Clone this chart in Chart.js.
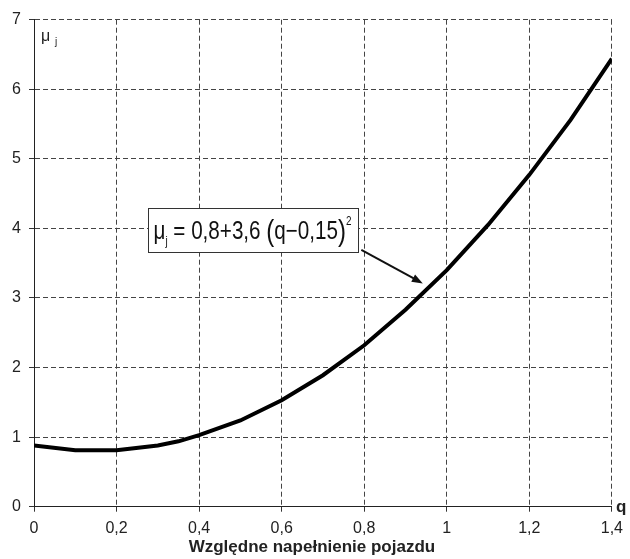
<!DOCTYPE html>
<html><head><meta charset="utf-8">
<script src="https://cdn.jsdelivr.net/npm/chart.js@4"></script>
<style>html,body{margin:0;padding:0;background:#fff}#wrap{width:630px;height:559px;position:relative}</style>
</head><body><div id="wrap"><canvas id="c" width="630" height="559"></canvas></div>
<script>
// ---- data ----
const qValues  = [0, 0.1, 0.2, 0.3, 0.35, 0.4, 0.5, 0.6, 0.7, 0.8, 0.9, 1.0, 1.1, 1.2, 1.3, 1.4];
const muValues = [0.88, 0.81, 0.81, 0.88, 0.94, 1.03, 1.24, 1.53, 1.89, 2.32, 2.83, 3.40, 4.05, 4.77, 5.56, 6.44];
const xTickValues = [0, 0.2, 0.4, 0.6, 0.8, 1.0, 1.2, 1.4];
const yTickValues = [0, 1, 2, 3, 4, 5, 6, 7];
const xAxisTitle = 'Względne napełnienie pojazdu';
const xAxisSymbol = 'q';
const yAxisSymbol = 'μ';
const yAxisSub = 'j';
// formula annotation: anchor in data coordinates
const boxCorners = {q1: 0.275, mu1: 4.29, q2: 0.786, mu2: 3.66};
const arrowFrom = {q: 0.793, mu: 3.69};
const arrowTo = {q: 0.942, mu: 3.21};

const FONT = "'Liberation Sans', Arial, sans-serif";
const fmt = v => String(Math.round(v * 10) / 10).replace('.', ',');

const overlay = {
  id: 'overlay',
  afterDatasetsDraw(chart) {
    const ctx = chart.ctx, xs = chart.scales.x, ys = chart.scales.y, ca = chart.chartArea;
    ctx.save();
    // y symbol
    ctx.fillStyle = '#222';
    ctx.textBaseline = 'alphabetic';
    ctx.textAlign = 'left';
    ctx.font = '16px ' + FONT;
    ctx.fillText(yAxisSymbol, ca.left + 7, ca.top + 21);
    ctx.font = '10px ' + FONT;
    ctx.fillText(yAxisSub, ca.left + 21, ca.top + 25);
    // x symbol
    ctx.font = 'bold 17px ' + FONT;
    ctx.fillText(xAxisSymbol, ca.right + 4, ca.bottom + 5);
    // axis title
    ctx.font = 'bold 17px ' + FONT;
    ctx.textAlign = 'center';
    ctx.fillText(xAxisTitle, (ca.left + ca.right) / 2 - 11, chart.height - 7);

    // formula box
    const bx1 = Math.round(xs.getPixelForValue(boxCorners.q1)) + 0.5;
    const by1 = Math.round(ys.getPixelForValue(boxCorners.mu1)) + 0.5;
    const bx2 = Math.round(xs.getPixelForValue(boxCorners.q2)) + 0.5;
    const by2 = Math.round(ys.getPixelForValue(boxCorners.mu2)) + 0.5;
    ctx.fillStyle = '#fff';
    ctx.fillRect(bx1, by1, bx2 - bx1, by2 - by1);
    ctx.strokeStyle = '#333';
    ctx.lineWidth = 1;
    ctx.strokeRect(bx1, by1, bx2 - bx1, by2 - by1);

    // formula text pieces
    const parts = [
      {t: 'μ', f: '25px ' + FONT, dy: 0},
      {t: 'j', f: '12px ' + FONT, dy: 6},
      {t: ' = ', f: '25px ' + FONT, dy: 0},
      {t: '0,8+3,6 ', f: '25px ' + FONT, dy: 0},
      {t: '(', f: '29px ' + FONT, dy: 2},
      {t: 'q−0,15', f: '25px ' + FONT, dy: 0},
      {t: ')', f: '29px ' + FONT, dy: 2},
      {t: '2', f: '12px ' + FONT, dy: -14}
    ];
    let total = 0;
    parts.forEach(p => { ctx.font = p.f; p.w = ctx.measureText(p.t).width; total += p.w; });
    const startX = bx1 + 5, endX = bx2 - 7;
    const sx = (endX - startX) / total;
    const baseY = by1 + 30;
    ctx.fillStyle = '#111';
    ctx.textAlign = 'left';
    ctx.save();
    ctx.translate(startX, baseY);
    ctx.scale(sx, 1);
    let cx = 0;
    parts.forEach(p => { ctx.font = p.f; ctx.fillText(p.t, cx, p.dy); cx += p.w; });
    ctx.restore();

    // arrow
    const ax1 = xs.getPixelForValue(arrowFrom.q), ay1 = ys.getPixelForValue(arrowFrom.mu);
    const ax2 = xs.getPixelForValue(arrowTo.q), ay2 = ys.getPixelForValue(arrowTo.mu);
    const ang = Math.atan2(ay2 - ay1, ax2 - ax1);
    const hl = 11, hw = 4;
    ctx.strokeStyle = '#111';
    ctx.lineWidth = 2;
    ctx.beginPath();
    ctx.moveTo(ax1, ay1);
    ctx.lineTo(ax2 - Math.cos(ang) * hl * 0.8, ay2 - Math.sin(ang) * hl * 0.8);
    ctx.stroke();
    ctx.fillStyle = '#111';
    ctx.beginPath();
    ctx.moveTo(ax2, ay2);
    ctx.lineTo(ax2 - Math.cos(ang) * hl - Math.sin(ang) * hw, ay2 - Math.sin(ang) * hl + Math.cos(ang) * hw);
    ctx.lineTo(ax2 - Math.cos(ang) * hl + Math.sin(ang) * hw, ay2 - Math.sin(ang) * hl - Math.cos(ang) * hw);
    ctx.closePath();
    ctx.fill();
    ctx.restore();
  }
};

const gridCommon = {
  color: '#444',
  lineWidth: 1,
  tickBorderDash: [],
  tickColor: '#333',
  tickLength: 5,
  drawTicks: true
};
const borderCommon = {display: true, color: '#222', width: 1, dash: [5, 3]};

new Chart(document.getElementById('c'), {
  type: 'line',
  data: {
    datasets: [{
      data: qValues.map((q, i) => ({x: q, y: muValues[i]})),
      borderColor: '#000',
      borderWidth: 4,
      pointRadius: 0,
      tension: 0,
      fill: false
    }]
  },
  options: {
    responsive: false,
    devicePixelRatio: 1,
    animation: false,
    layout: {padding: {left: 0, right: 15, top: 19.7, bottom: 0}},
    plugins: {legend: {display: false}, tooltip: {enabled: false}},
    scales: {
      x: {
        type: 'linear', min: 0, max: 1.4,
        afterBuildTicks: s => { s.ticks = xTickValues.map(v => ({value: v})); },
        afterFit: s => { s.height = 52.3; },
        grid: gridCommon,
        border: borderCommon,
        ticks: {color: '#222', font: {family: FONT, size: 16}, padding: 7, maxRotation: 0, autoSkip: false, callback: v => fmt(v)}
      },
      y: {
        type: 'linear', min: 0, max: 7,
        afterBuildTicks: s => { s.ticks = yTickValues.map(v => ({value: v})); },
        afterFit: s => { s.width = 34; },
        grid: gridCommon,
        border: borderCommon,
        ticks: {color: '#222', font: {family: FONT, size: 16}, padding: 8, callback: v => fmt(v)}
      }
    }
  },
  plugins: [overlay]
});
</script></body></html>
